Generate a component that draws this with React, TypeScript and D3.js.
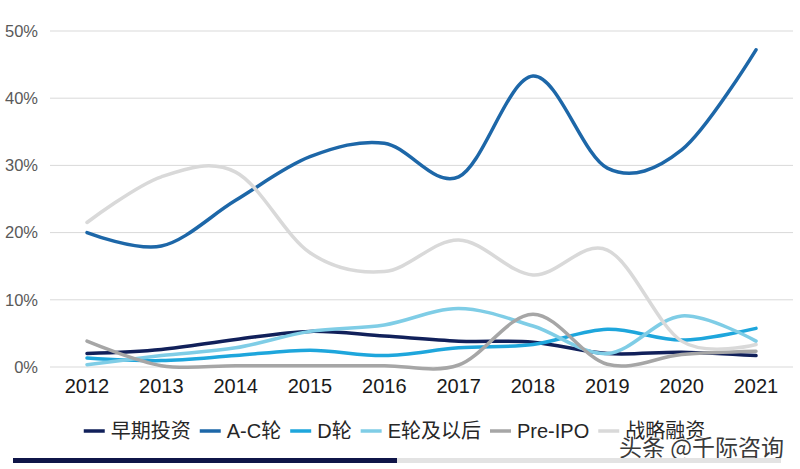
import React, { useEffect, useRef } from "react";
import * as d3 from "d3";

const years = ["2012", "2013", "2014", "2015", "2016", "2017", "2018", "2019", "2020", "2021"];
const seriesNames = ["早期投资", "A-C轮", "D轮", "E轮及以后", "Pre-IPO", "战略融资"];
const seriesColors = ["#11205a", "#1d67a8", "#1ea6dc", "#7fcde6", "#a6a6a6", "#d9d9d9"];
const early = [2.0, 2.6, 4.1, 5.3, 4.6, 3.85, 3.7, 2.0, 2.2, 1.7];
const roundAC = [20.0, 18.0, 24.8, 31.3, 33.3, 28.3, 43.3, 29.6, 32.3, 47.2];
const roundD = [1.35, 0.95, 1.7, 2.5, 1.7, 2.85, 3.35, 5.6, 4.0, 5.75];
const roundE = [0.35, 1.7, 2.85, 5.3, 6.25, 8.7, 6.1, 2.0, 7.6, 3.85];
const preIPO = [3.85, 0.2, 0.2, 0.2, 0.2, 0.3, 7.85, 0.4, 1.85, 2.35];
const strategic = [21.5, 28.3, 29.0, 17.0, 14.2, 18.9, 13.7, 17.4, 3.85, 3.35];
const seriesValues = [early, roundAC, roundD, roundE, preIPO, strategic];
const yTicks = [0, 10, 20, 30, 40, 50];

const W = 800;
const H = 469;

export default function App() {
  const ref = useRef<SVGSVGElement | null>(null);

  useEffect(() => {
    const svg = d3.select(ref.current);
    svg.selectAll("*").remove();

    const x = d3.scalePoint<string>().domain(years).range([87, 756]);
    const y = d3.scaleLinear().domain([0, 50]).range([367, 31]);

    // gridlines
    svg
      .append("g")
      .selectAll("line")
      .data(yTicks)
      .join("line")
      .attr("x1", 50)
      .attr("x2", 793)
      .attr("y1", (d) => y(d))
      .attr("y2", (d) => y(d))
      .attr("stroke", "#d9d9d9")
      .attr("stroke-width", 1);

    // y labels
    svg
      .append("g")
      .selectAll("text")
      .data(yTicks)
      .join("text")
      .attr("x", 38)
      .attr("y", (d) => y(d))
      .attr("dy", "0.35em")
      .attr("text-anchor", "end")
      .attr("font-family", "Liberation Sans, Arial, sans-serif")
      .attr("font-size", 16.5)
      .attr("fill", "#595959")
      .text((d) => `${d}%`);

    // x labels
    svg
      .append("g")
      .selectAll("text")
      .data(years)
      .join("text")
      .attr("x", (d) => x(d) as number)
      .attr("y", 393)
      .attr("text-anchor", "middle")
      .attr("font-family", "Liberation Sans, Arial, sans-serif")
      .attr("font-size", 20)
      .attr("fill", "#1a1a1a")
      .text((d) => d);

    const line = d3
      .line<number>()
      .x((_, i) => x(years[i]) as number)
      .y((d) => y(d))
      .curve(d3.curveCardinal.tension(0));

    svg
      .append("g")
      .selectAll("path")
      .data(seriesValues)
      .join("path")
      .attr("d", (d) => line(d))
      .attr("fill", "none")
      .attr("stroke", (_, i) => seriesColors[i])
      .attr("stroke-width", 3.5)
      .attr("stroke-linecap", "round");

    // legend
    const lg = svg.append("g");
    const items = lg
      .selectAll("g")
      .data(seriesNames)
      .join("g");
    items
      .append("line")
      .attr("x1", 0)
      .attr("x2", 21)
      .attr("y1", 0)
      .attr("y2", 0)
      .attr("stroke", (_, i) => seriesColors[i])
      .attr("stroke-width", 3.5);
    items
      .append("text")
      .attr("x", 27)
      .attr("y", 0)
      .attr("dy", "0.36em")
      .attr("font-family", "Liberation Sans, 'Noto Sans CJK SC', sans-serif")
      .attr("font-size", 20)
      .attr("fill", "#262626")
      .text((d) => d);
    let cx = 0;
    const offsets: number[] = [];
    items.each(function () {
      const t = d3.select(this).select("text").node() as SVGTextElement;
      offsets.push(cx);
      cx += 27 + t.getComputedTextLength() + 9;
    });
    const total = cx - 9;
    const start = 394.5 - total / 2;
    items.attr("transform", (_, i) => `translate(${start + offsets[i]},431)`);

    // watermark caption
    svg
      .append("text")
      .attr("x", 784)
      .attr("y", 456)
      .attr("text-anchor", "end")
      .attr("font-family", "'Noto Sans CJK SC', sans-serif")
      .attr("font-size", 23)
      .attr("fill", "#3a3a3a")
      .attr("stroke", "#ffffff")
      .attr("stroke-width", 2)
      .attr("paint-order", "stroke")
      .text("头条 @千际咨询");

    // bottom progress bar
    svg
      .append("rect")
      .attr("x", 397)
      .attr("y", 458)
      .attr("width", 384)
      .attr("height", 5)
      .attr("fill", "#e3e3e3");
    svg
      .append("rect")
      .attr("x", 13)
      .attr("y", 458)
      .attr("width", 384)
      .attr("height", 5)
      .attr("fill", "#0f1548");
  }, []);

  return (
    <svg
      ref={ref}
      width={W}
      height={H}
      viewBox={`0 0 ${W} ${H}`}
      style={{ position: "absolute", left: 0, top: 0, background: "#ffffff" }}
    />
  );
}
